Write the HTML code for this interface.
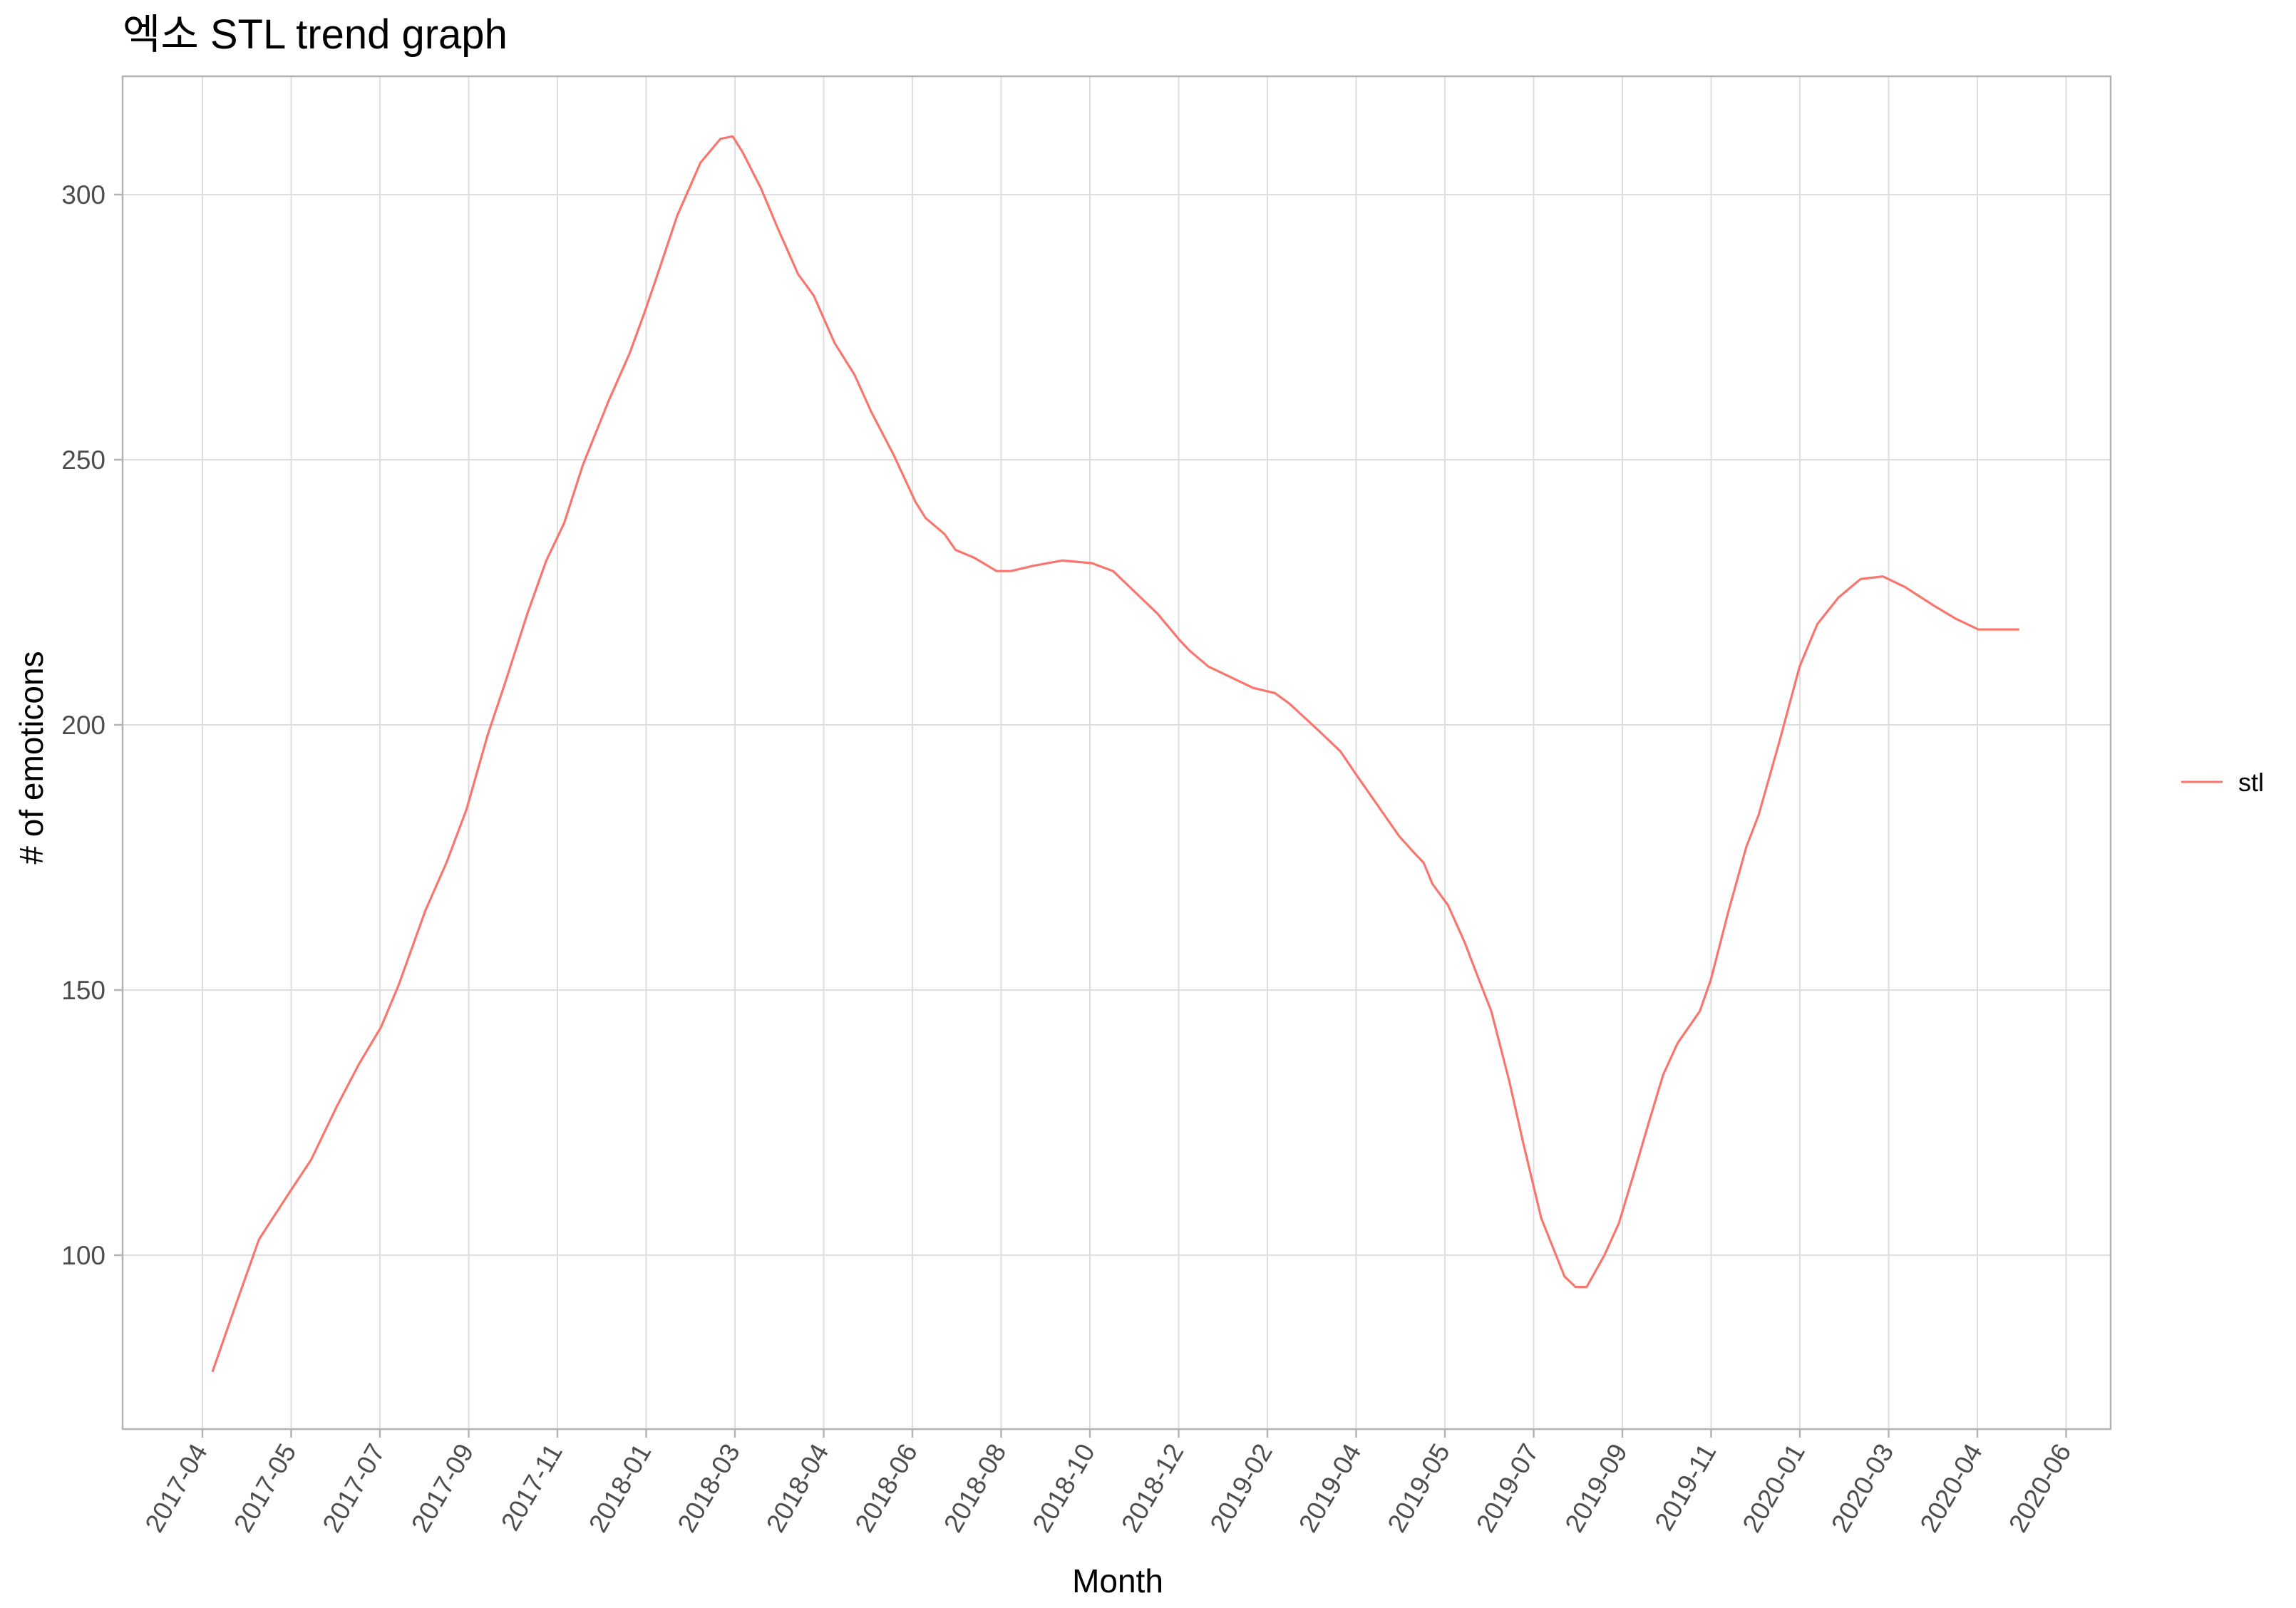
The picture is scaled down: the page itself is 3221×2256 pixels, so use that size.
<!DOCTYPE html>
<html><head><meta charset="utf-8">
<style>
html,body{margin:0;padding:0;background:#fff;}
svg{display:block;font-family:"Liberation Sans","Noto Sans CJK KR",sans-serif;}
</style></head>
<body>
<svg id="chart" width="3221" height="2256" viewBox="0 0 3221 2256">
<text x="172" y="68" font-size="58" fill="#000">엑소 STL trend graph</text>
<g id="grid"></g>
<g id="series"></g>
<rect x="172" y="107" width="2789" height="1898" fill="none" stroke="#b3b3b3" stroke-width="2.5"/>
<g id="yaxis"></g>
<g id="xaxis"></g>
<text x="1568" y="2234" font-size="46" text-anchor="middle" fill="#000">Month</text>
<text transform="translate(60,1063) rotate(-90)" font-size="46" text-anchor="middle" fill="#000"># of emoticons</text>
<g>
<line x1="3060" y1="1097" x2="3118" y2="1097" stroke="#F8766D" stroke-width="3"/>
<text x="3140" y="1110" font-size="36" fill="#000">stl</text>
</g>
</svg>
<script>
const tickLabels = ["2017-04","2017-05","2017-07","2017-09","2017-11","2018-01","2018-03","2018-04","2018-06","2018-08","2018-10","2018-12","2019-02","2019-04","2019-05","2019-07","2019-09","2019-11","2020-01","2020-03","2020-04","2020-06"];
const yTicks = [100,150,200,250,300];
// weeks since series start
const weeks = [0,2,4.2,7,8.9,11.2,13.2,15.2,16.8,19.2,21.1,22.9,24.8,26.4,28.4,30.1,31.7,33.4,35.7,37.6,39,40.3,41.9,44,45.8,46.9,47.8,49.5,50.9,52.8,54.2,56.1,57.9,59.4,61.4,63.4,64.3,66,67,68.7,70.7,72,74,76.6,79.3,81.2,83.2,85.2,87.2,88.1,89.8,91.8,93.8,95.8,97.1,99.7,101.7,103,105,107,108.3,109.2,110,111.4,112.9,114,115.3,116.9,118.2,119.8,121.9,122.9,123.9,125.5,126.8,128.1,129.5,130.8,132.1,134.1,135.1,136.7,138.3,139.4,141.3,143.1,144.7,146.6,148.6,150.6,152.6,155.2,157.2,159.2,161.2,162.9];
const values = [78,90,103,112,118,128,136,143,151,165,174,184,198,208,221,231,238,249,261,270,278,286,296,306,310.5,311,308,301,294,285,281,272,266,259,251,242,239,236,233,231.5,229,229,230,231,230.5,229,225,221,216,214,211,209,207,206,204,199,195,191,185,179,176,174,170,166,159,153,146,133,121,107,96,94,94,100,106,115,125,134,140,146,152,165,177,183,197,211,219,224,227.5,228,226,222.5,220,218,218,218];

const NS="http://www.w3.org/2000/svg";
const PL=172, PR=2961, PT=107, PB=2005;
function yScale(v){ return 273 + (300 - v) * 7.44; }
function xTick(i){ return 284 + i * 124.5; }
function xScale(w){ return 298 + w * 15.56; }
function mk(tag, attrs, parent){ const e=document.createElementNS(NS,tag); for(const k in attrs) e.setAttribute(k,attrs[k]); parent.appendChild(e); return e; }

const grid=document.getElementById('grid');
const yaxis=document.getElementById('yaxis');
const xaxis=document.getElementById('xaxis');
yTicks.forEach(v=>{
  const y=yScale(v);
  const g=mk('line',{x1:PL,x2:PR,y1:y,y2:y,stroke:'#dedede','stroke-width':2},grid);
  
  
  const t=mk('line',{x1:160,x2:PL,y1:y,y2:y,stroke:'#b3b3b3','stroke-width':2.5},yaxis);
  
  
  const l=mk('text',{x:148,y:y+13,'font-size':37,'text-anchor':'end',fill:'#4d4d4d'},yaxis);
  l.textContent=v;
  
  
});
tickLabels.forEach((lab,i)=>{
  const x=xTick(i);
  const g=mk('line',{x1:x,x2:x,y1:PT,y2:PB,stroke:'#dedede','stroke-width':2},grid);
  
  
  const t=mk('line',{x1:x,x2:x,y1:PB,y2:PB+12,stroke:'#b3b3b3','stroke-width':2.5},xaxis);
  
  
  const l=mk('text',{transform:`translate(${x+8},${PB+30}) rotate(-60)`,'font-size':37,'text-anchor':'end',fill:'#4d4d4d'},xaxis);
  l.textContent=lab;
  
  
});
const d=weeks.map((w,i)=>(i?'L':'M')+xScale(w).toFixed(1)+','+yScale(values[i]).toFixed(1)).join(' ');
const p=mk('path',{d:d,fill:'none',stroke:'#F8766D','stroke-width':3.2,'stroke-linejoin':'round'},document.getElementById('series'));


</script>
</body></html>
